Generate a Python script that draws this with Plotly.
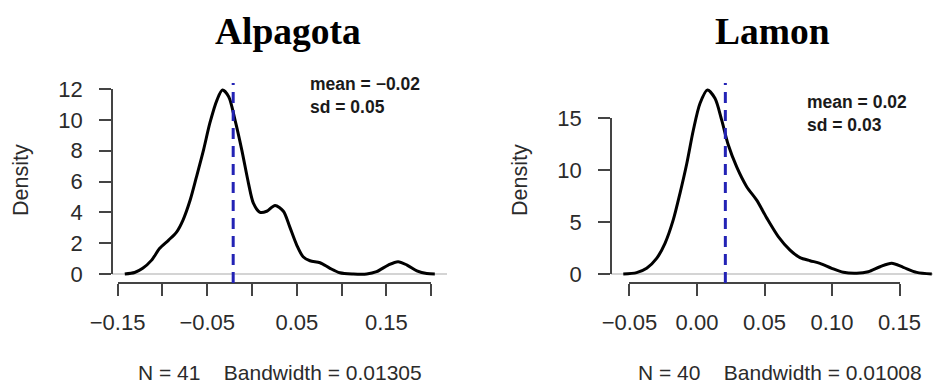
import plotly.graph_objects as go

# ---------------- data ----------------
titles = ["Alpagota", "Lamon"]

alp_x = [-0.142, -0.131, -0.122, -0.112, -0.103, -0.093, -0.084, -0.077, -0.069, -0.062,
         -0.054, -0.047, -0.039, -0.033, -0.026, -0.019, -0.0115, -0.004, 0.0015, 0.009,
         0.0164, 0.0257, 0.035, 0.042, 0.0499, 0.057, 0.0647, 0.0759, 0.087, 0.098,
         0.113, 0.128, 0.139, 0.152, 0.163, 0.173, 0.184, 0.195, 0.204]
alp_y = [0.0, 0.1, 0.37, 0.9, 1.67, 2.2, 2.74, 3.5, 4.8, 6.3,
         8.07, 9.8, 11.3, 11.93, 11.5, 10.0, 8.07, 5.9, 4.6, 4.0,
         4.07, 4.45, 4.07, 3.07, 1.88, 1.12, 0.86, 0.73, 0.37, 0.08,
         0.0, 0.0, 0.15, 0.58, 0.8, 0.58, 0.21, 0.03, 0.0]

lam_x = [-0.0546, -0.0447, -0.0373, -0.0299, -0.0237, -0.0176, -0.0126, -0.0076, -0.0027, 0.0022,
         0.0077, 0.0133, 0.0183, 0.0232, 0.0294, 0.0368, 0.0442, 0.0516, 0.0602, 0.0689,
         0.0763, 0.0837, 0.0911, 0.0998, 0.1084, 0.1183, 0.1269, 0.1356, 0.1442, 0.1528,
         0.1627, 0.1739]
lam_y = [0.0, 0.13, 0.55, 1.5, 2.95, 5.2, 7.76, 10.6, 13.85, 16.4,
         17.7, 16.9, 14.8, 12.4, 10.3, 8.4, 7.1, 5.4, 3.6, 2.3,
         1.57, 1.28, 1.03, 0.55, 0.16, 0.07, 0.22, 0.7, 1.03, 0.64,
         0.16, 0.0]

means = [-0.021, 0.021]
mean_labels = ["\u22120.02", "0.02"]
sd_labels = ["0.05", "0.03"]
n_obs = [41, 40]
bandwidths = ["0.01305", "0.01008"]

alp_xticks = [-0.15, -0.10, -0.05, 0.0, 0.05, 0.10, 0.15, 0.20]
alp_xticktext = ["\u22120.15", "", "\u22120.05", "", "0.05", "", "0.15", ""]
lam_xticks = [-0.05, 0.0, 0.05, 0.10, 0.15]
lam_xticktext = ["\u22120.05", "0.00", "0.05", "0.10", "0.15"]
alp_yticks = [0, 2, 4, 6, 8, 10, 12]
lam_yticks = [0, 5, 10, 15]

# ---------------- geometry (pixels) ----------------
W, H = 933, 385
PLOT_TOP, PLOT_BOT = 83, 283
panels = [
    dict(left=112, right=447, xr=[-0.15625, 0.2176], yr=[-0.584, 12.39],
         x=alp_x, y=alp_y, xt=alp_xticks, xtt=alp_xticktext, yt=alp_yticks,
         title_x=288, stat_x=308, stat_y=72, dens_x=21, foot_x=280),
    dict(left=611, right=933, xr=[-0.0637, 0.1748], yr=[-0.865, 18.37],
         x=lam_x, y=lam_y, xt=lam_xticks, xtt=lam_xticktext, yt=lam_yticks,
         title_x=772, stat_x=805, stat_y=90, dens_x=520, foot_x=780),
]

def px_x(p):
    return p / W

def px_y(p):
    return (H - p) / H

AXC = "#444444"
TXT = "#2b2b2b"
SANS = "Liberation Sans, Arial, sans-serif"
SERIF = "Liberation Serif, Times New Roman, serif"

fig = go.Figure()
layout = dict(width=W, height=H, margin=dict(l=0, r=0, t=0, b=0, pad=0),
              paper_bgcolor="white", plot_bgcolor="rgba(0,0,0,0)", showlegend=False)
shapes, annotations = [], []

for i, p in enumerate(panels):
    k_main = 1 + 2 * i          # 1, 3
    k_ov = 2 + 2 * i            # 2, 4
    main_x = "x" if k_main == 1 else f"x{k_main}"
    main_y = "y" if k_main == 1 else f"y{k_main}"
    ov_x, ov_y = f"x{k_ov}", f"y{k_ov}"
    xa_main = "xaxis" if k_main == 1 else f"xaxis{k_main}"
    ya_main = "yaxis" if k_main == 1 else f"yaxis{k_main}"

    dom_x = [px_x(p["left"]), px_x(p["right"])]
    dom_y = [px_y(PLOT_BOT), px_y(PLOT_TOP)]
    width_px = p["right"] - p["left"]
    height_px = PLOT_BOT - PLOT_TOP

    def data_to_px_x(v, p=p, width_px=width_px):
        return p["left"] + (v - p["xr"][0]) / (p["xr"][1] - p["xr"][0]) * width_px

    def data_to_px_y(v, p=p, height_px=height_px):
        return PLOT_BOT - (v - p["yr"][0]) / (p["yr"][1] - p["yr"][0]) * height_px

    layout[xa_main] = dict(domain=dom_x, range=p["xr"], anchor=main_y, visible=False,
                           showgrid=False, zeroline=False, automargin=False)
    layout[ya_main] = dict(domain=dom_y, range=p["yr"], anchor=main_x,
                           showgrid=False, showticklabels=False, ticks="",
                           showline=False, zeroline=True, zerolinecolor="#d4d4d4",
                           zerolinewidth=1.5, automargin=False)

    # overlay axes spanning the tick range only (R style detached axes)
    ox_dom = [px_x(data_to_px_x(p["xt"][0])), px_x(data_to_px_x(p["xt"][-1]))]
    oy_dom = [px_y(data_to_px_y(p["yt"][0])), px_y(data_to_px_y(p["yt"][-1]))]
    layout[f"xaxis{k_ov}"] = dict(domain=ox_dom, range=[p["xt"][0], p["xt"][-1]],
                                  anchor="free", position=px_y(PLOT_BOT),
                                  showline=True, linecolor=AXC, linewidth=1.6,
                                  ticks="outside", ticklen=12, tickwidth=1.6, tickcolor=AXC,
                                  tickvals=p["xt"], ticktext=p["xtt"],
                                  tickfont=dict(family=SANS, size=22, color=TXT),
                                  ticklabelstandoff=8, automargin=False,
                                  showgrid=False, zeroline=False, fixedrange=True)
    layout[f"yaxis{k_ov}"] = dict(domain=oy_dom, range=[p["yt"][0], p["yt"][-1]],
                                  anchor="free", position=px_x(p["left"]),
                                  showline=True, linecolor=AXC, linewidth=1.6,
                                  ticks="outside", ticklen=12, tickwidth=1.6, tickcolor=AXC,
                                  tickvals=p["yt"], ticktext=[str(v) for v in p["yt"]],
                                  tickfont=dict(family=SANS, size=22, color=TXT),
                                  ticklabelstandoff=12, automargin=False,
                                  showgrid=False, zeroline=False, fixedrange=True)

    # invisible trace so the overlay axes are drawn
    fig.add_trace(go.Scatter(x=[p["xt"][0], p["xt"][-1]], y=[p["yt"][0], p["yt"][-1]],
                             mode="markers", marker=dict(opacity=0), hoverinfo="skip",
                             xaxis=ov_x, yaxis=ov_y))

    # density curve
    fig.add_trace(go.Scatter(x=p["x"], y=p["y"], mode="lines",
                             line=dict(color="black", width=3, shape="spline", smoothing=0.8),
                             xaxis=main_x, yaxis=main_y, cliponaxis=True))

    # mean line
    shapes.append(dict(type="line", xref=main_x, yref=f"{main_y} domain",
                       x0=means[i], x1=means[i], y0=0, y1=1,
                       line=dict(color="#2323b5", width=3, dash="11px,7px")))

    # title
    annotations.append(dict(text=f"<b>{titles[i]}</b>", xref="paper", yref="paper",
                            x=px_x(p["title_x"]), y=px_y(31), xanchor="center", yanchor="middle",
                            showarrow=False, font=dict(family=SERIF, size=37.5, color="black")))
    # stats
    annotations.append(dict(text=f"<b>mean = {mean_labels[i]}</b><br><b>sd = {sd_labels[i]}</b>",
                            xref="paper", yref="paper", x=px_x(p["stat_x"]), y=px_y(p["stat_y"]),
                            xanchor="left", yanchor="top", align="left", showarrow=False,
                            font=dict(family=SANS, size=17.5, color="#1a1a1a")))
    # Density label
    annotations.append(dict(text="Density", xref="paper", yref="paper",
                            x=px_x(p["dens_x"]), y=px_y(180),
                            xanchor="center", yanchor="middle", textangle=-90, showarrow=False,
                            font=dict(family=SANS, size=21.5, color=TXT)))
    # footer
    annotations.append(dict(text=f"N = {n_obs[i]}\u00a0\u00a0\u00a0 Bandwidth = {bandwidths[i]}",
                            xref="paper", yref="paper", x=px_x(p["foot_x"]), y=0,
                            xanchor="center", yanchor="bottom", showarrow=False, borderpad=0,
                            font=dict(family=SANS, size=21, color=TXT)))

layout["shapes"] = shapes
layout["annotations"] = annotations
fig.update_layout(**layout)
fig.write_html("out.html", config={"displayModeBar": False},
               post_script="document.body.style.margin='0px';")
